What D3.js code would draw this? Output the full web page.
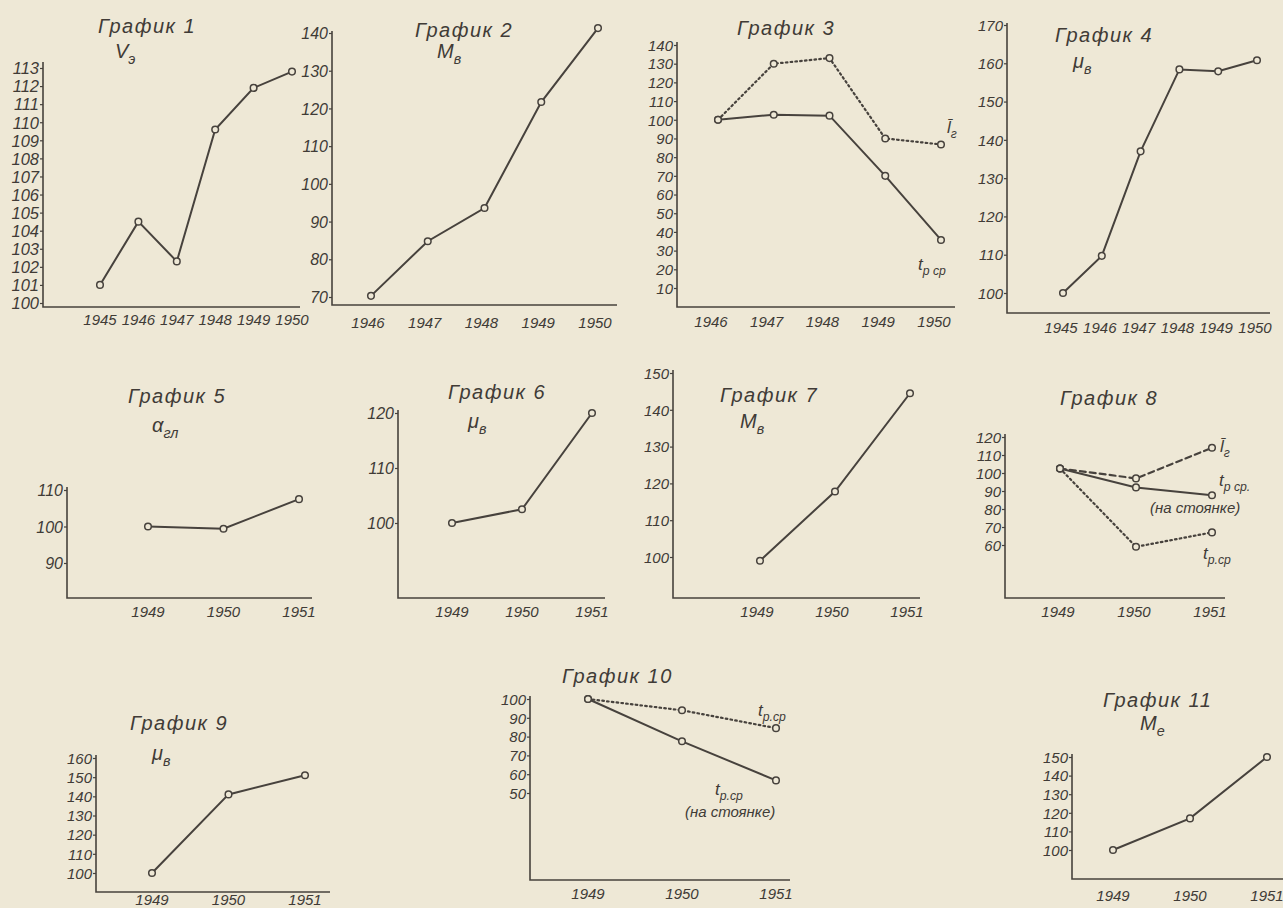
<!DOCTYPE html>
<html>
<head>
<meta charset="utf-8">
<script src="https://cdn.jsdelivr.net/npm/d3@7"></script>
<style>
body { margin: 0; background: #eee8d6; }
svg { display: block; }
text { font-family: "Liberation Sans", "DejaVu Sans", sans-serif; font-style: italic; fill: #403b36; }
</style>
</head>
<body>
<svg class="chart" width="1283" height="908"></svg>
<script>
// ---- data ----
var years45 = [1945, 1946, 1947, 1948, 1949, 1950];
var years46 = [1946, 1947, 1948, 1949, 1950];
var years49 = [1949, 1950, 1951];

var g1Ve = [101, 104.5, 102.3, 109.6, 111.9, 112.8];
var g2Mv = [70.3, 84.8, 93.6, 121.7, 141.3];
var g3Lg = [100, 130, 133, 90, 86.8];
var g3Tp = [100, 102.7, 102.2, 70, 35.7];
var g4Mu = [100, 109.7, 137, 158.4, 157.9, 160.8];
var g5Agl = [100, 99.4, 107.5];
var g6Mu = [100, 102.5, 120];
var g7Mv = [99, 117.8, 144.5];
var g8Lg = [102.5, 97, 114];
var g8TpSt = [102.5, 92, 87.6];
var g8Tp = [102.5, 59, 67];
var g9Mu = [100, 141, 151];
var g10Tp = [100, 94, 84.5];
var g10TpSt = [100, 77.5, 56.7];
var g11Me = [100, 117, 150];

var ticks1 = d3.range(100, 114, 1);
var ticks2 = d3.range(70, 150, 10);
var ticks3 = d3.range(10, 150, 10);
var ticks4 = d3.range(100, 180, 10);
var ticks5 = [90, 100, 110];
var ticks6 = [100, 110, 120];
var ticks7 = d3.range(100, 160, 10);
var ticks8 = d3.range(60, 130, 10);
var ticks9 = d3.range(100, 170, 10);
var ticks10 = d3.range(50, 110, 10);
var ticks11 = d3.range(100, 160, 10);

var ink = "#47423d";
var paper = "#eee8d6";
var svg = d3.select("svg.chart");

var dashes = { solid: null, dotted: "1.6,3.2", dashed: "6,4" };

// label with optional subscript
function label(g, x, y, main, sub, size) {
  var t = g.append("text").attr("x", x).attr("y", y).attr("font-size", size);
  t.append("tspan").text(main);
  if (sub) t.append("tspan").attr("dy", size * 0.3).attr("font-size", size * 0.72).text(sub);
  return t;
}

function drawChart(c) {
  var g = svg.append("g");
  var x = d3.scaleLinear().domain(d3.extent(c.years)).range(c.xr);
  var y = d3.scaleLinear().domain(c.yd).range(c.yr);

  // axes drawn like the hand-ruled originals
  g.append("path")
    .attr("d", "M" + c.ax + "," + c.top + "V" + c.bottom + "H" + c.right)
    .attr("fill", "none").attr("stroke", ink).attr("stroke-width", 1.6);

  var ya = d3.axisLeft(y).tickValues(c.ticks).tickSize(3).tickFormat(d3.format("d"));
  var ag = g.append("g").attr("transform", "translate(" + c.ax + ",0)").call(ya);
  ag.select(".domain").remove();
  ag.selectAll("line").attr("stroke", ink).attr("stroke-width", 1.2);
  ag.selectAll("text").attr("font-size", c.tickSize || 15).attr("x", -4).attr("dy", "0.35em");

  // year labels
  g.selectAll("text.yr").data(c.years).enter().append("text")
    .attr("class", "yr")
    .attr("x", function(d) { return x(d) + (c.ldx || 0); })
    .attr("y", c.ly)
    .attr("text-anchor", "middle")
    .attr("font-size", 15)
    .text(function(d) { return d; });

  var line = d3.line()
    .x(function(d) { return x(d[0]); })
    .y(function(d) { return y(d[1]); });

  c.series.forEach(function(s) {
    var pts = c.years.map(function(yr, i) { return [yr, s.values[i]]; });
    g.append("path").datum(pts)
      .attr("d", line)
      .attr("fill", "none")
      .attr("stroke", ink)
      .attr("stroke-width", s.style == "solid" ? 2 : 2.2)
      .attr("stroke-linecap", "round")
      .attr("stroke-dasharray", dashes[s.style]);
    g.selectAll(null).data(pts).enter().append("circle")
      .attr("cx", function(d) { return x(d[0]); })
      .attr("cy", function(d) { return y(d[1]); })
      .attr("r", 3.3)
      .attr("fill", paper)
      .attr("stroke", ink)
      .attr("stroke-width", 1.5);
  });

  label(g, c.title[0], c.title[1], "График " + c.title[2], null, 20).attr("letter-spacing", 1.5);
  if (c.sub) label(g, c.sub[0], c.sub[1], c.sub[2], c.sub[3], 20);
  (c.notes || []).forEach(function(n) { label(g, n[0], n[1], n[2], n[3], n[4] || 17); });
}

var charts = [
  { years: years45, series: [{ values: g1Ve, style: "solid" }], ticks: ticks1, tickSize: 16.5,
    yd: [100, 113], yr: [303, 68], xr: [100, 292], ax: 43, top: 62, bottom: 307, right: 300, ly: 325,
    title: [98, 33, "1"], sub: [115, 58, "V", "э"] },
  { years: years46, series: [{ values: g2Mv, style: "solid" }], ticks: ticks2, tickSize: 16,
    yd: [70, 140], yr: [297, 33], xr: [371, 598], ax: 332, top: 31, bottom: 305, right: 617, ly: 328, ldx: -3,
    title: [415, 37, "2"], sub: [437, 58, "M", "в"] },
  { years: years46, series: [{ values: g3Lg, style: "dotted" }, { values: g3Tp, style: "solid" }], ticks: ticks3,
    yd: [10, 140], yr: [288, 45], xr: [718, 941], ax: 677, top: 42, bottom: 307, right: 955, ly: 327, ldx: -7,
    title: [737, 35, "3"],
    notes: [[947, 133, "l\u0304", "г"], [918, 270, "t", "р ср"]] },
  { years: years45, series: [{ values: g4Mu, style: "solid" }], ticks: ticks4,
    yd: [100, 170], yr: [293, 25], xr: [1063, 1257], ax: 1007, top: 23, bottom: 313, right: 1270, ly: 333, ldx: -2,
    title: [1055, 42, "4"], sub: [1073, 68, "\u03bc", "в"] },
  { years: years49, series: [{ values: g5Agl, style: "solid" }], ticks: ticks5, tickSize: 16,
    yd: [90, 110], yr: [563, 490], xr: [148, 299], ax: 67, top: 487, bottom: 598, right: 312, ly: 617,
    title: [128, 403, "5"], sub: [152, 432, "\u03b1", "гл"] },
  { years: years49, series: [{ values: g6Mu, style: "solid" }], ticks: ticks6, tickSize: 16,
    yd: [100, 120], yr: [523, 413], xr: [452, 592], ax: 398, top: 410, bottom: 598, right: 605, ly: 617,
    title: [448, 399, "6"], sub: [468, 428, "\u03bc", "в"] },
  { years: years49, series: [{ values: g7Mv, style: "solid" }], ticks: ticks7,
    yd: [100, 150], yr: [557, 373], xr: [760, 910], ax: 673, top: 370, bottom: 598, right: 920, ly: 617, ldx: -3,
    title: [720, 402, "7"], sub: [740, 428, "M", "в"] },
  { years: years49, series: [{ values: g8Lg, style: "dashed" }, { values: g8TpSt, style: "solid" }, { values: g8Tp, style: "dotted" }],
    ticks: ticks8, yd: [60, 120], yr: [545, 437], xr: [1060, 1212], ax: 1005, top: 434, bottom: 598, right: 1225, ly: 617, ldx: -2,
    title: [1060, 405, "8"],
    notes: [[1220, 452, "l\u0304", "г"], [1219, 486, "t", "р ср."], [1150, 513, "(на стоянке)", null, 15], [1203, 559, "t", "р.ср"]] },
  { years: years49, series: [{ values: g9Mu, style: "solid" }], ticks: ticks9,
    yd: [100, 160], yr: [873, 758], xr: [152, 305], ax: 96, top: 755, bottom: 892, right: 330, ly: 905,
    title: [130, 730, "9"], sub: [152, 760, "\u03bc", "в"] },
  { years: years49, series: [{ values: g10Tp, style: "dotted" }, { values: g10TpSt, style: "solid" }], ticks: ticks10,
    yd: [50, 100], yr: [793, 699], xr: [588, 776], ax: 530, top: 696, bottom: 880, right: 790, ly: 899,
    title: [562, 683, "10"],
    notes: [[758, 716, "t", "р.ср"], [715, 795, "t", "р.ср"], [685, 817, "(на стоянке)", null, 15]] },
  { years: years49, series: [{ values: g11Me, style: "solid" }], ticks: ticks11,
    yd: [100, 150], yr: [850, 757], xr: [1113, 1267], ax: 1072, top: 754, bottom: 879, right: 1283, ly: 901,
    title: [1103, 707, "11"], sub: [1140, 730, "M", "е"] }
];

charts.forEach(drawChart);
</script>
</body>
</html>
